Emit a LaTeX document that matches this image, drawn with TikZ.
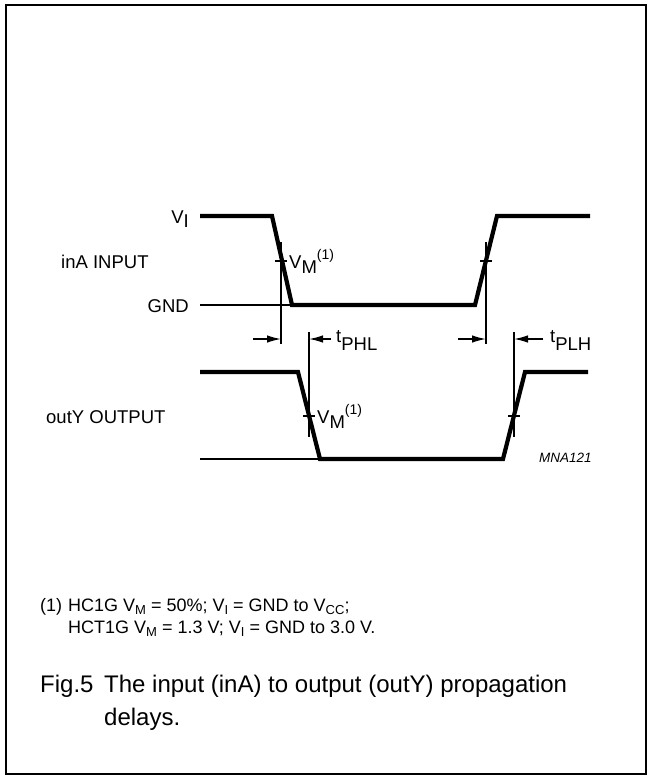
\documentclass[tikz,border=0pt]{standalone}
\usepackage{fontspec}
\setmainfont{Liberation Sans}
\usetikzlibrary{arrows.meta}
\newcommand\lowsub[2]{\raisebox{-#1}{#2}}
\newcommand\supone{\raisebox{9pt}{\fontsize{14}{14}\selectfont(1)}}
\newcommand\footsub[1]{\raisebox{-3.5pt}{\fontsize{13}{14}\selectfont #1}}
\begin{document}
\begin{tikzpicture}[x=1pt,y=-1pt,
  wave/.style={line width=4.2pt, line join=miter},
  thinln/.style={line width=1.3pt},
  arr/.style={line width=1.4pt, -{Latex[length=14pt,width=7.5pt]}},
  lbl/.style={inner sep=0pt, font=\fontsize{18.5}{22}\selectfont},
  foot/.style={inner sep=0pt, font=\fontsize{18}{22}\selectfont},
  capt/.style={inner sep=0pt, font=\fontsize{24}{30}\selectfont},
  codelbl/.style={inner sep=0pt, font=\fontsize{13.5}{16}\selectfont\itshape}]
\useasboundingbox (0,0) rectangle (648,776);
\draw[line width=2pt] (5.5,4.7) rectangle (646,774);

% input waveform
\draw[wave] (200,216) -- (272,216) -- (292,305) -- (475,305) -- (497,216) -- (590,216);
\draw[thinln] (200,305) -- (292,305);
% output waveform
\draw[wave] (200,372) -- (298,372) -- (320,459) -- (503,459) -- (525,372) -- (588,372);
\draw[thinln] (200,459) -- (320,459);

% measurement points
\coordinate (fa) at (281,339);
\coordinate (ra) at (486,339);
\coordinate (fo) at (309,339);
\coordinate (ro) at (514,339);
\coordinate (fas) at (253,339);
\coordinate (ras) at (458,339);
\coordinate (fos) at (331,339);
\coordinate (ros) at (543,339);

\draw[thinln] (281,242) -- (281,344);
\draw[thinln] (486,242) -- (486,344);
\draw[thinln] (309,332) -- (309,437);
\draw[thinln] (514,332) -- (514,437);
\draw[thinln] (275,261) -- (287,261);
\draw[thinln] (480,261) -- (492,261);
\draw[thinln] (303,416) -- (315,416);
\draw[thinln] (508,416) -- (520,416);

\draw[arr] (fas) -- (fa);
\draw[arr] (fos) -- (fo);
\draw[arr] (ras) -- (ra);
\draw[arr] (ros) -- (ro);

% labels
\node[lbl, anchor=base east] (vi) at (189,223) {V\lowsub{4pt}{I}};
\node[lbl, anchor=base west] (ina) at (61,268) {inA INPUT};
\node[lbl, anchor=base east] (gnd) at (189,312) {GND};
\node[lbl, anchor=base west] (vm1) at (289,268) {V\lowsub{5pt}{M}\supone};
\node[lbl, anchor=base west] (outy) at (46,423) {outY OUTPUT};
\node[lbl, anchor=base west] (vm2) at (317,423) {V\lowsub{5pt}{M}\supone};
\node[lbl, anchor=base west] (tphl) at (336,342) {t\lowsub{8pt}{PHL}};
\node[lbl, anchor=base west] (tplh) at (550,342) {t\lowsub{8pt}{PLH}};
\node[codelbl, anchor=base west] (mna) at (539,462) {MNA121};

% footnote
\node[foot, anchor=base west] (fn) at (40,611) {(1)};
\node[foot, anchor=base west] (fl1) at (68,611) {HC1G V\footsub{M} = 50\%; V\footsub{I} = GND to V\footsub{CC};};
\node[foot, anchor=base west] (fl2) at (68,633) {HCT1G V\footsub{M} = 1.3 V; V\footsub{I} = GND to 3.0 V.};

% caption
\node[capt, anchor=base west] (fig) at (40,692) {Fig.5};
\node[capt, anchor=base west] (c1) at (104,692) {The input (inA) to output (outY) propagation};
\node[capt, anchor=base west] (c2) at (104,725) {delays.};
\end{tikzpicture}
\end{document}
